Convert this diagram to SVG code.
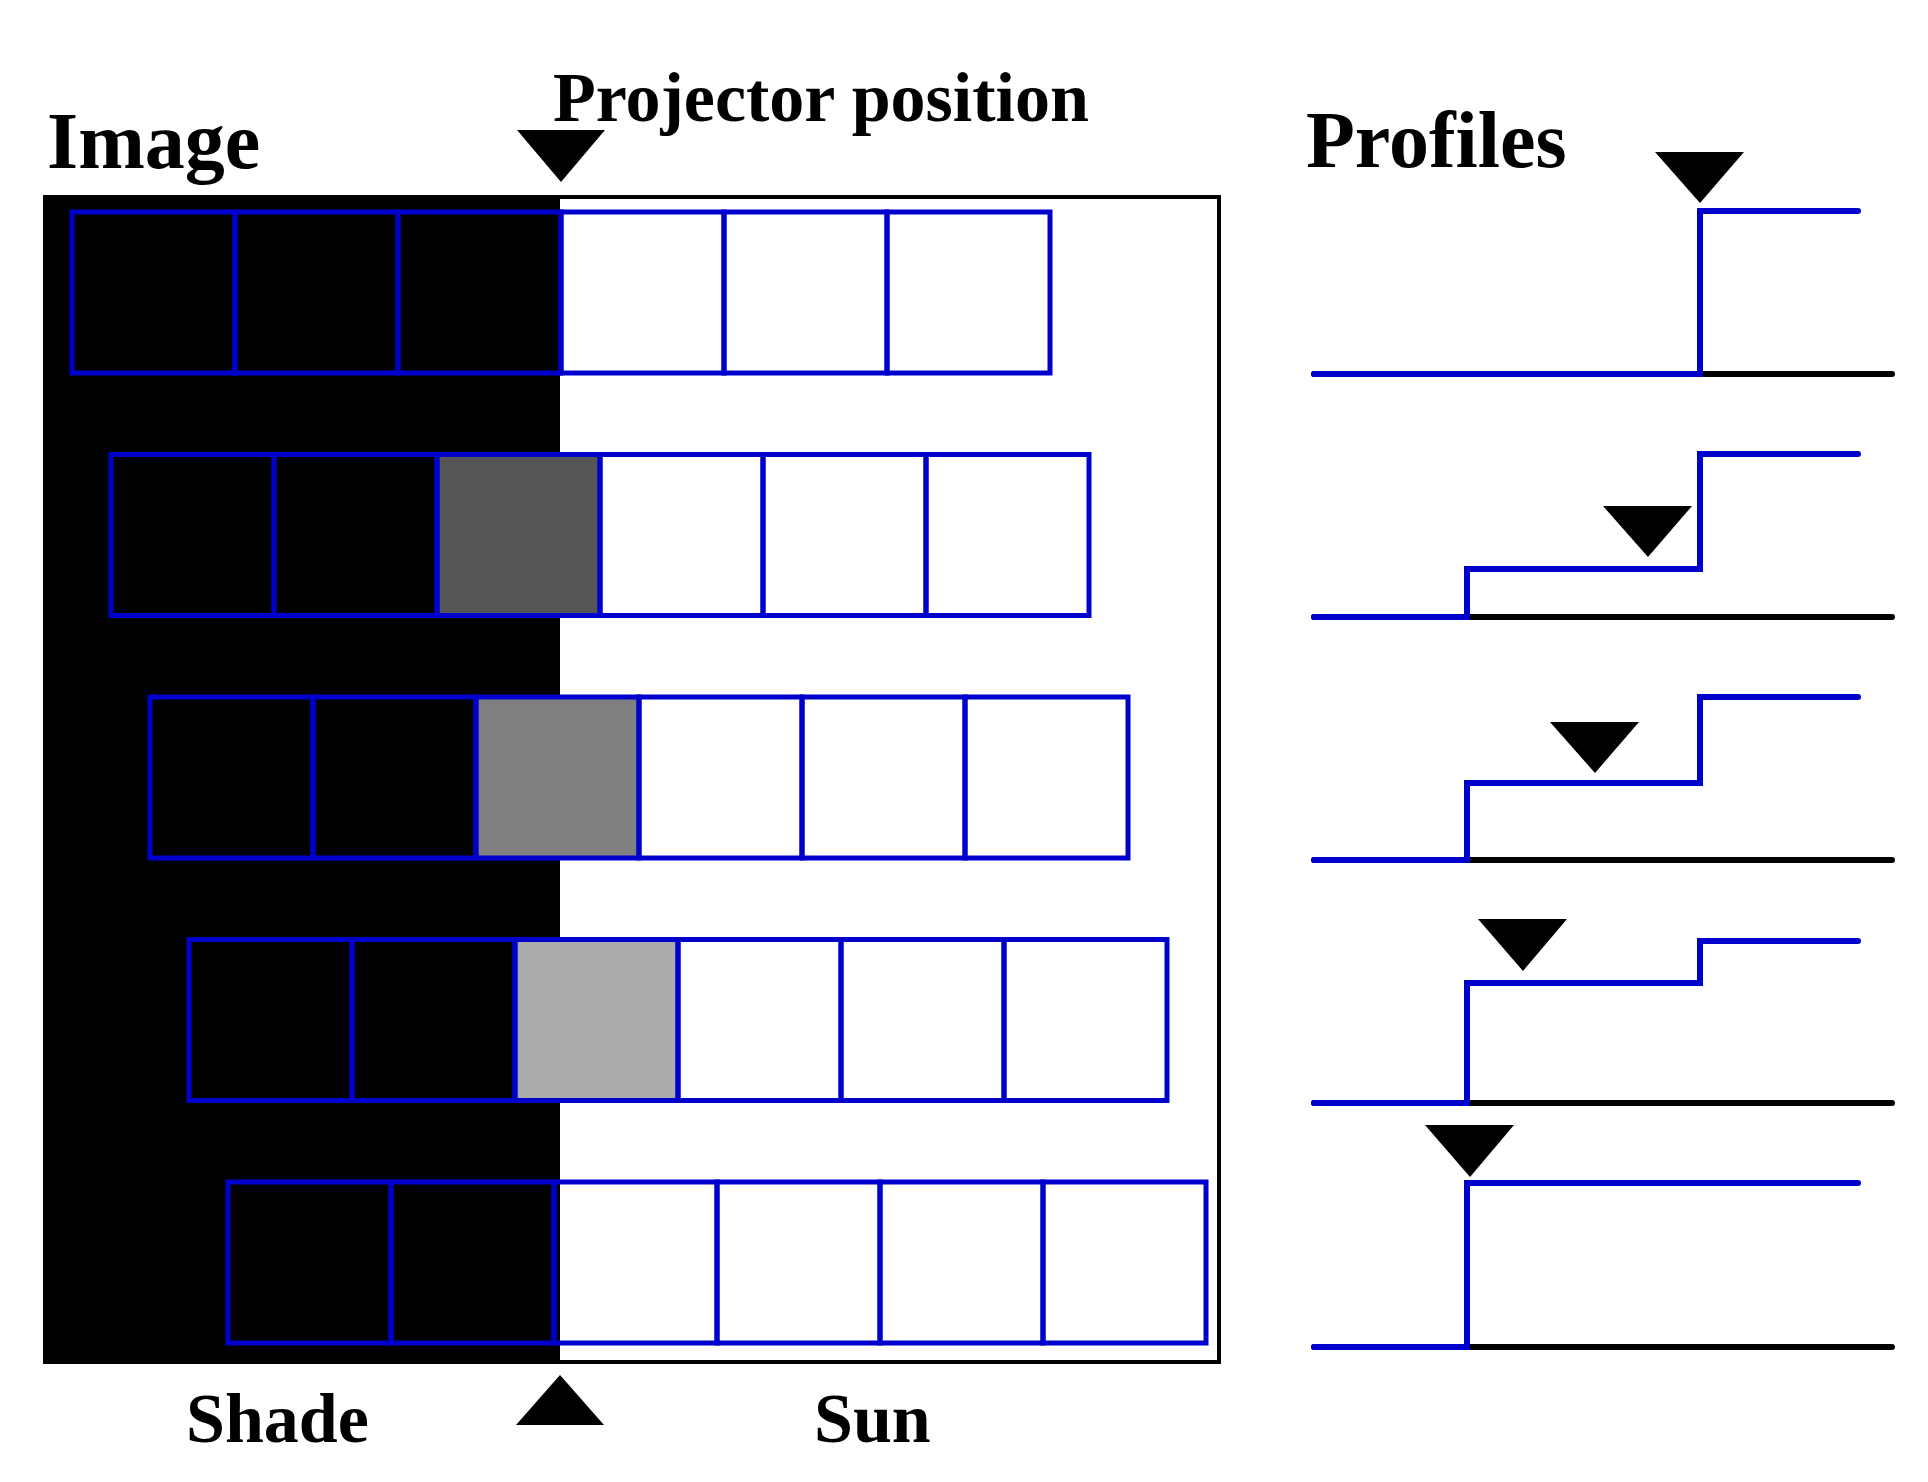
<svg xmlns="http://www.w3.org/2000/svg" width="1928" height="1482" viewBox="0 0 1928 1482">
<style>
.t{font-family:"Liberation Serif","Times New Roman",serif;font-weight:bold;fill:#000}
.c{fill:none;stroke:#0000CC;stroke-width:5}
.pl{fill:none;stroke:#0000CC;stroke-width:6;stroke-linecap:round;stroke-linejoin:miter}
.bl{fill:none;stroke:#000;stroke-width:6;stroke-linecap:round}
.tri{fill:#000}
</style>
<rect x="0" y="0" width="1928" height="1482" fill="#fff"/>
<g id="image-frame">
<rect x="45" y="197" width="515" height="1165" fill="#000"/>
<rect x="45" y="197" width="1174" height="1165" fill="none" stroke="#000" stroke-width="4"/>
</g>
<g id="labels">
<text class="t" x="47" y="168" font-size="80">Image</text>
<text class="t" x="553" y="121" font-size="70">Projector position</text>
<text class="t" x="1306" y="167" font-size="80">Profiles</text>
<text class="t" x="186" y="1442" font-size="70">Shade</text>
<text class="t" x="814" y="1442" font-size="70">Sun</text>
</g>
<g id="projector-markers">
<polygon class="tri" points="517,130 605,130 561,182"/>
<polygon class="tri" points="516,1425 604,1425 560,1375"/>
</g>
<g id="row1">
<rect class="c" x="72" y="212" width="163" height="161"/>
<rect class="c" x="235" y="212" width="163" height="161"/>
<rect class="c" x="398" y="212" width="163" height="161"/>
<rect class="c" x="561" y="212" width="163" height="161"/>
<rect class="c" x="724" y="212" width="163" height="161"/>
<rect class="c" x="887" y="212" width="163" height="161"/>
</g>
<g id="row2">
<rect x="437" y="454.5" width="163" height="161" fill="#555555"/>
<rect class="c" x="111" y="454.5" width="163" height="161"/>
<rect class="c" x="274" y="454.5" width="163" height="161"/>
<rect class="c" x="437" y="454.5" width="163" height="161"/>
<rect class="c" x="600" y="454.5" width="163" height="161"/>
<rect class="c" x="763" y="454.5" width="163" height="161"/>
<rect class="c" x="926" y="454.5" width="163" height="161"/>
</g>
<g id="row3">
<rect x="476" y="697" width="163" height="161" fill="#808080"/>
<rect class="c" x="150" y="697" width="163" height="161"/>
<rect class="c" x="313" y="697" width="163" height="161"/>
<rect class="c" x="476" y="697" width="163" height="161"/>
<rect class="c" x="639" y="697" width="163" height="161"/>
<rect class="c" x="802" y="697" width="163" height="161"/>
<rect class="c" x="965" y="697" width="163" height="161"/>
</g>
<g id="row4">
<rect x="515" y="939.5" width="163" height="161" fill="#AAAAAA"/>
<rect class="c" x="189" y="939.5" width="163" height="161"/>
<rect class="c" x="352" y="939.5" width="163" height="161"/>
<rect class="c" x="515" y="939.5" width="163" height="161"/>
<rect class="c" x="678" y="939.5" width="163" height="161"/>
<rect class="c" x="841" y="939.5" width="163" height="161"/>
<rect class="c" x="1004" y="939.5" width="163" height="161"/>
</g>
<g id="row5">
<rect class="c" x="228" y="1182" width="163" height="161"/>
<rect class="c" x="391" y="1182" width="163" height="161"/>
<rect class="c" x="554" y="1182" width="163" height="161"/>
<rect class="c" x="717" y="1182" width="163" height="161"/>
<rect class="c" x="880" y="1182" width="163" height="161"/>
<rect class="c" x="1043" y="1182" width="163" height="161"/>
</g>
<g id="profile1">
<line class="bl" x1="1314" y1="374" x2="1892" y2="374"/>
<polyline class="pl" points="1314,374 1700,374 1700,211 1858,211"/>
<polygon class="tri" points="1655,152 1744,152 1700,203"/>
</g>
<g id="profile2">
<line class="bl" x1="1314" y1="617" x2="1892" y2="617"/>
<polyline class="pl" points="1314,617 1467,617 1467,569 1700,569 1700,454 1858,454"/>
<polygon class="tri" points="1603,506 1692,506 1648,557"/>
</g>
<g id="profile3">
<line class="bl" x1="1314" y1="860" x2="1892" y2="860"/>
<polyline class="pl" points="1314,860 1467,860 1467,783 1700,783 1700,697 1858,697"/>
<polygon class="tri" points="1550,722 1639,722 1595,773"/>
</g>
<g id="profile4">
<line class="bl" x1="1314" y1="1103" x2="1892" y2="1103"/>
<polyline class="pl" points="1314,1103 1467,1103 1467,983 1700,983 1700,941 1858,941"/>
<polygon class="tri" points="1478,919 1567,919 1523,971"/>
</g>
<g id="profile5">
<line class="bl" x1="1314" y1="1347" x2="1892" y2="1347"/>
<polyline class="pl" points="1314,1347 1467,1347 1467,1183 1858,1183"/>
<polygon class="tri" points="1425,1125 1514,1125 1470,1177"/>
</g>
</svg>
